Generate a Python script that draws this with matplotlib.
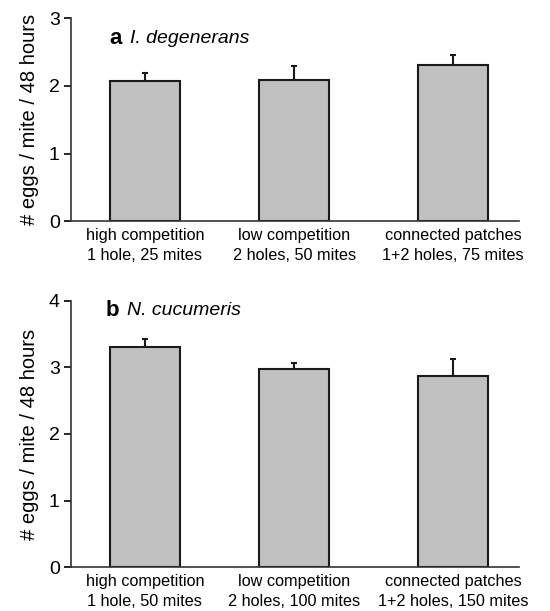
import matplotlib.pyplot as plt

plt.rcParams['font.family'] = ['Liberation Sans', 'DejaVu Sans']

# panel a: I. degenerans
labels_a = ['high competition\n1 hole, 25 mites',
            'low competition\n2 holes, 50 mites',
            'connected patches\n1+2 holes, 75 mites']
means_a = [2.07, 2.09, 2.31]
errs_a = [0.12, 0.20, 0.15]

# panel b: N. cucumeris
labels_b = ['high competition\n1 hole, 50 mites',
            'low competition\n2 holes, 100 mites',
            'connected patches\n1+2 holes, 150 mites']
means_b = [3.31, 2.97, 2.87]
errs_b = [0.12, 0.10, 0.26]

pos = [0, 0.97, 2]


def draw_panel(ax, means, errs, labels, ymax, letter, species, ty, lx, sx):
    ax.bar(pos, means, width=0.455, color='#c0c0c0', edgecolor='#1a1a1a',
           linewidth=1.5, zorder=2)
    ax.errorbar(pos, means, yerr=[[0] * len(errs), errs], fmt='none',
                ecolor='#1a1a1a', elinewidth=1.5, capsize=2.5, capthick=1.5, zorder=1)
    ax.set_xlim(-0.48, 2.43)
    ax.set_ylim(0, ymax)
    ax.set_yticks(range(ymax + 1))
    ax.set_xticks(pos)
    ax.set_xticklabels(labels, fontsize=11.7, linespacing=1.4)
    ax.tick_params(axis='x', length=0, pad=5)
    ax.tick_params(axis='y', direction='out', length=5, width=1.2, labelsize=14, pad=3)
    for s in ['top', 'right']:
        ax.spines[s].set_visible(False)
    for s in ['left', 'bottom']:
        ax.spines[s].set_linewidth(1.2)
        ax.spines[s].set_color('#333333')
    ax.set_ylabel('# eggs / mite / 48 hours', fontsize=14.5, labelpad=7)
    ax.text(lx, ty, letter, transform=ax.transAxes, fontsize=16,
            fontweight='bold', va='center', ha='left')
    ax.text(sx, ty, species, transform=ax.transAxes, fontsize=14,
            style='italic', va='center', ha='left')


fig = plt.figure(figsize=(5.5, 6.11), dpi=100)
ax1 = fig.add_axes([0.129, 0.638, 0.815, 0.3323])
ax2 = fig.add_axes([0.129, 0.072, 0.815, 0.4354])

draw_panel(ax1, means_a, errs_a, labels_a, 3, 'a', 'I. degenerans', 0.9, 0.085, 0.132)
draw_panel(ax2, means_b, errs_b, labels_b, 4, 'b', 'N. cucumeris', 0.965, 0.077, 0.125)

fig.savefig('out.png', dpi=100)
